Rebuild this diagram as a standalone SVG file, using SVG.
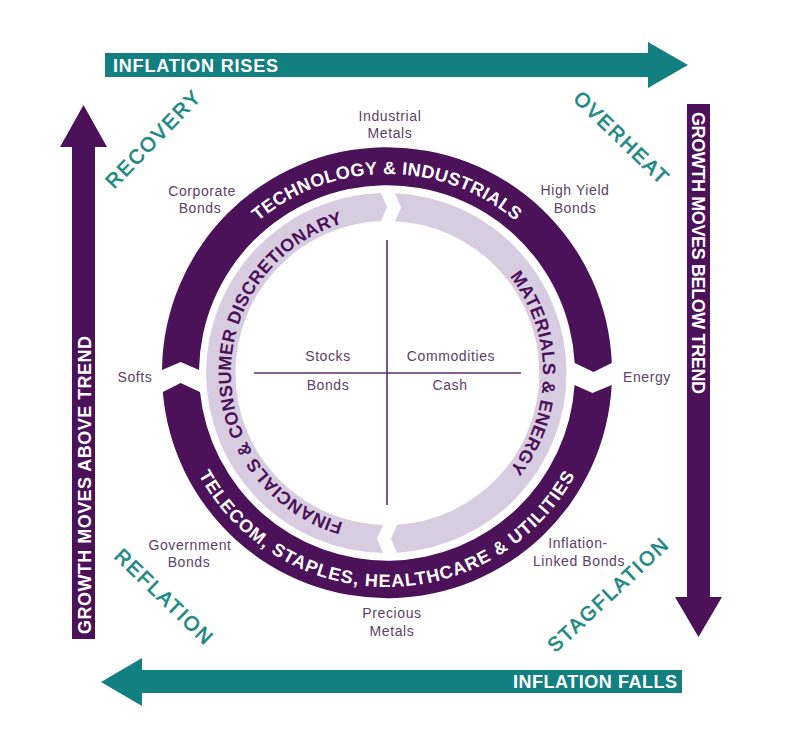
<svg xmlns="http://www.w3.org/2000/svg" width="804" height="750" viewBox="0 0 804 750">
<style>
.bg{fill:#ffffff}
.teal{fill:#127f80}
.purple{fill:#4b1159}
.lav{fill:#d8cde0}
.arrowtxt{font-family:"Liberation Sans",Arial,sans-serif;font-weight:bold;font-size:18px;fill:#ffffff}
.corner{font-family:"Liberation Sans",Arial,sans-serif;font-weight:normal;font-size:20px;fill:#1d8884;stroke:#1d8884;stroke-width:0.7;letter-spacing:2px}
.ringw{font-family:"Liberation Sans",Arial,sans-serif;font-weight:bold;font-size:18px;fill:#ffffff}
.ringp{font-family:"Liberation Sans",Arial,sans-serif;font-weight:bold;font-size:18px;fill:#4b1159}
.lbl{font-family:"Liberation Sans",Arial,sans-serif;font-size:14px;fill:#5c4169;letter-spacing:0.6px;text-anchor:middle}
.cross{stroke:#5a2e6a;stroke-width:1.6;fill:none}
</style>
<defs>
<path id="pTech" d="M188,373 A199,199 0 0 1 586,373"/>
<path id="pTel" d="M173,373 A214,214 0 0 0 601,373"/>
<path id="pFin" d="M387,529 A156,156 0 0 1 387,217"/>
<path id="pMat" d="M387,217 A156,156 0 0 1 387,529"/>
</defs>
<rect class="bg" x="0" y="0" width="804" height="750"/>

<g id="arrows">
<g id="arrow-inflation-rises">
<polygon class="teal" points="105,53 648,53 648,42 688,65 648,88 648,77 105,77"/>
<text class="arrowtxt" x="113" y="72" textLength="165" lengthAdjust="spacing">INFLATION RISES</text>
</g>
<g id="arrow-inflation-falls">
<polygon class="teal" points="682,670 142,670 142,658 101,682 142,706 142,693 682,693"/>
<text class="arrowtxt" x="513" y="688" textLength="164" lengthAdjust="spacing">INFLATION FALLS</text>
</g>
<g id="arrow-growth-below">
<polygon class="purple" points="687,104 710,104 710,597 722,597 698.5,637 675,597 687,597"/>
<text class="arrowtxt" transform="translate(692,112) rotate(90)" textLength="282" lengthAdjust="spacing">GROWTH MOVES BELOW TREND</text>
</g>
<g id="arrow-growth-above">
<polygon class="purple" points="72,639 72,147 60,147 83.5,105 107,147 95,147 95,639"/>
<text class="arrowtxt" transform="translate(90.5,634) rotate(-90)" textLength="298" lengthAdjust="spacing">GROWTH MOVES ABOVE TREND</text>
</g>
</g>

<g id="phase-labels">
<text id="recovery" class="corner" text-anchor="middle" transform="translate(158.5,143.5) rotate(-46)">RECOVERY</text>
<text id="overheat" class="corner" text-anchor="middle" transform="translate(617,143) rotate(44)">OVERHEAT</text>
<text id="reflation" class="corner" text-anchor="middle" transform="translate(159.5,602) rotate(44)">REFLATION</text>
<text id="stagflation" class="corner" text-anchor="middle" transform="translate(613,599.5) rotate(-43)">STAGFLATION</text>
</g>

<g id="outer-ring">
<g id="seg-tech">
<path class="purple" d="M162,370 A225,225 0 0 1 611.8,363 L593.5,372 L574.7,363 A188,188 0 0 0 199,370 L180.8,362 Z"/>
<text class="ringw" letter-spacing="0.4"><textPath href="#pTech" startOffset="50%" text-anchor="middle">TECHNOLOGY &amp; INDUSTRIALS</textPath></text>
</g>
<g id="seg-telecom">
<path class="purple" d="M611.7,385 A225,225 0 0 1 162.8,392 L180.7,383 L200,392 A188,188 0 0 0 574.6,385 L592.5,393 Z"/>
<text class="ringw" letter-spacing="1"><textPath href="#pTel" startOffset="50%" text-anchor="middle">TELECOM, STAPLES, HEALTHCARE &amp; UTILITIES</textPath></text>
</g>
</g>

<g id="inner-ring">
<g id="seg-financials">
<path class="lav" d="M383,553 A180,180 0 0 1 381,193.1 L387,207 L381,221.1 A152,152 0 0 0 383,524.9 L377,538.7 Z"/>
<text class="ringp" letter-spacing="0.3"><textPath href="#pFin" startOffset="50%" text-anchor="middle">FINANCIALS &amp; CONSUMER DISCRETIONARY</textPath></text>
</g>
<g id="seg-materials">
<path class="lav" d="M395,193.2 A180,180 0 0 1 397,552.7 L391,539 L397,524.7 A152,152 0 0 0 395,221.2 L401,207.6 Z"/>
<text class="ringp" letter-spacing="0.3"><textPath href="#pMat" startOffset="50%" text-anchor="middle">MATERIALS &amp; ENERGY</textPath></text>
</g>
</g>

<g id="center-quadrants">
<line class="cross" x1="254" y1="373" x2="521" y2="373"/>
<line class="cross" x1="387" y1="240" x2="387" y2="505"/>
<text class="lbl" x="328" y="361">Stocks</text>
<text class="lbl" x="451" y="361">Commodities</text>
<text class="lbl" x="328" y="390">Bonds</text>
<text class="lbl" x="450" y="390">Cash</text>
</g>

<g id="asset-labels">
<g id="industrial-metals"><text class="lbl" x="390" y="121">Industrial</text><text class="lbl" x="390" y="138">Metals</text></g>
<g id="corporate-bonds"><text class="lbl" x="202" y="196">Corporate</text><text class="lbl" x="200" y="213">Bonds</text></g>
<g id="high-yield-bonds"><text class="lbl" x="575" y="195">High Yield</text><text class="lbl" x="575" y="213">Bonds</text></g>
<g id="softs"><text class="lbl" x="135" y="382">Softs</text></g>
<g id="energy"><text class="lbl" x="647" y="382">Energy</text></g>
<g id="government-bonds"><text class="lbl" x="190" y="550">Government</text><text class="lbl" x="189" y="567">Bonds</text></g>
<g id="inflation-linked-bonds"><text class="lbl" x="578" y="548">Inflation-</text><text class="lbl" x="579" y="566">Linked Bonds</text></g>
<g id="precious-metals"><text class="lbl" x="392" y="618">Precious</text><text class="lbl" x="392" y="636">Metals</text></g>
</g>
</svg>
